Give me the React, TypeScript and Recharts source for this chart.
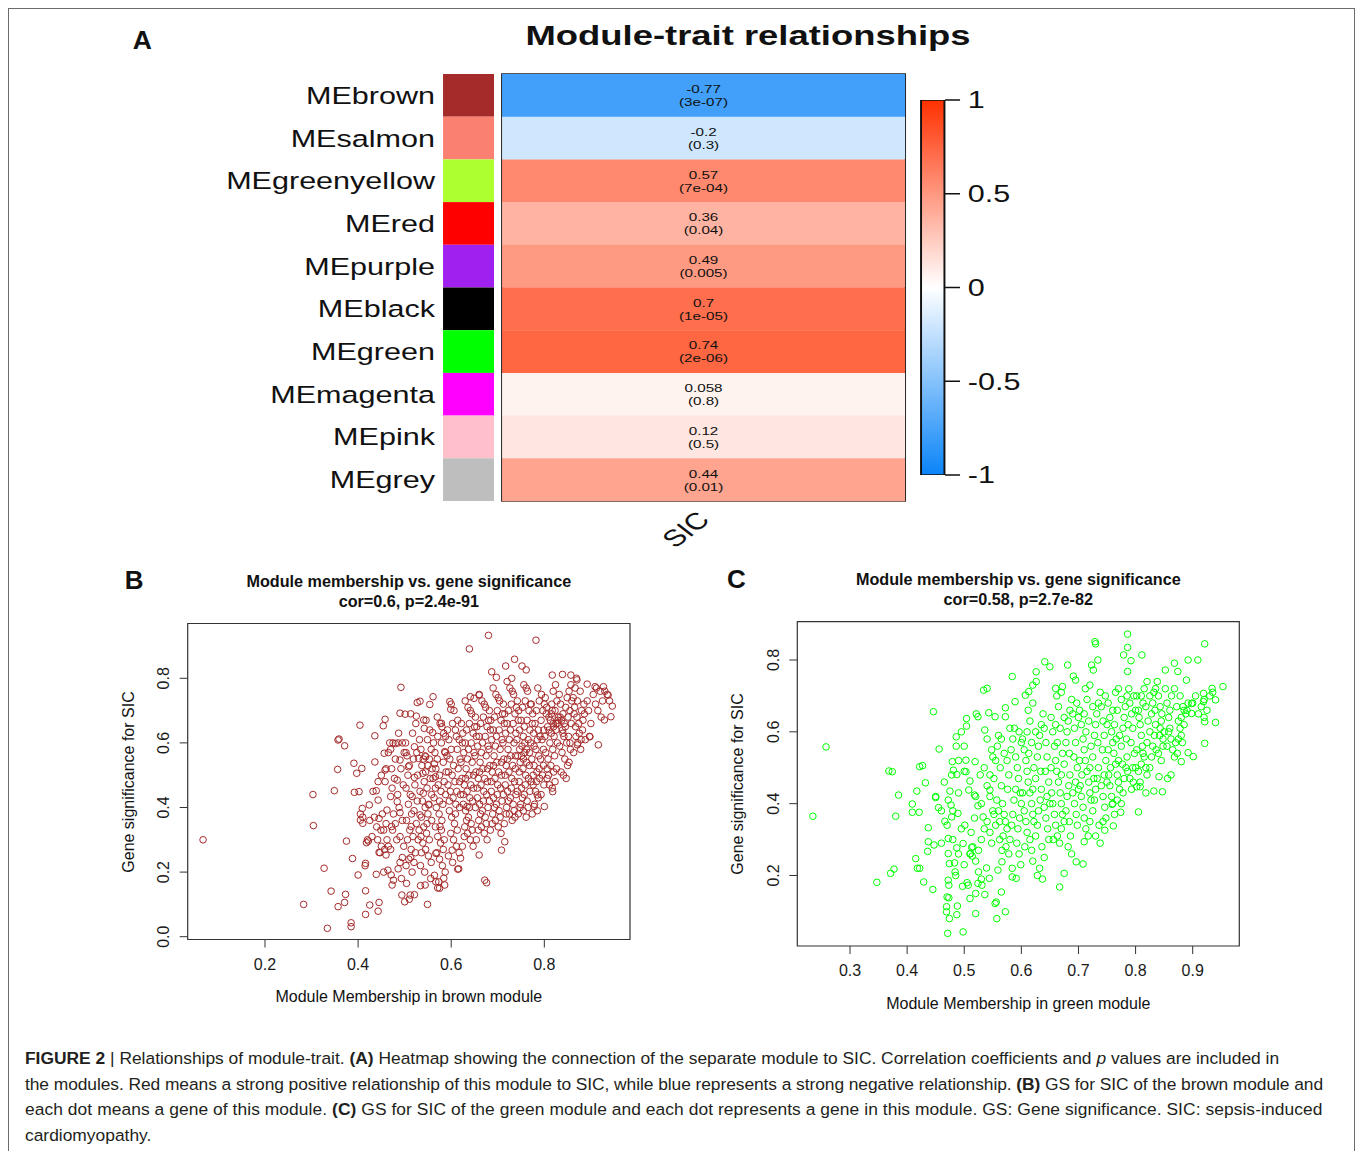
import React from 'react';
import {
  BarChart,
  Bar,
  Cell,
  LabelList,
  XAxis,
  YAxis,
  ScatterChart,
  Scatter,
  ReferenceArea,
} from 'recharts';

const FONT = '"Liberation Sans", Arial, Helvetica, sans-serif';
const INK = '#111';

// ---- panel A: module-trait heatmap ----
const modules = ['MEbrown', 'MEsalmon', 'MEgreenyellow', 'MEred', 'MEpurple', 'MEblack', 'MEgreen', 'MEmagenta', 'MEpink', 'MEgrey'];
const moduleColors = ['#A52A2A', '#FA8072', '#ADFF2F', '#FF0000', '#A020F0', '#000000', '#00FF00', '#FF00FF', '#FFC0CB', '#BEBEBE'];
const corSIC = [-0.77, -0.2, 0.57, 0.36, 0.49, 0.7, 0.74, 0.058, 0.12, 0.44];
const pSIC = ['3e-07', '0.3', '7e-04', '0.04', '0.005', '1e-05', '2e-06', '0.8', '0.5', '0.01'];
const scaleTicks = [-1, -0.5, 0, 0.5, 1];

// ---- panel B / C: module membership vs gene significance ----
const brownTicksX = [0.2, 0.4, 0.6, 0.8];
const brownTicksY = [0, 0.2, 0.4, 0.6, 0.8];
const greenTicksX = [0.3, 0.4, 0.5, 0.6, 0.7, 0.8, 0.9];
const greenTicksY = [0.2, 0.4, 0.6, 0.8];

const brownPoints: [number, number][] = [
  [0.067, 0.30], [0.283, 0.10], [0.303, 0.44], [0.304, 0.344], [0.327, 0.212], [0.334, 0.026], [0.342, 0.141], [0.349, 0.452],
  [0.357, 0.609], [0.359, 0.612], [0.356, 0.518], [0.357, 0.093], [0.371, 0.591], [0.373, 0.131], [0.371, 0.106], [0.375, 0.296],
  [0.385, 0.043], [0.385, 0.031], [0.388, 0.242], [0.391, 0.537], [0.392, 0.447], [0.397, 0.506], [0.40, 0.191], [0.404, 0.655],
  [0.402, 0.449], [0.405, 0.361], [0.409, 0.397], [0.408, 0.521], [0.41, 0.351], [0.416, 0.227], [0.416, 0.142], [0.416, 0.069],
  [0.418, 0.291], [0.424, 0.408], [0.425, 0.098], [0.422, 0.296], [0.436, 0.622], [0.436, 0.541], [0.439, 0.452], [0.439, 0.193],
  [0.443, 0.079], [0.445, 0.106], [0.445, 0.261], [0.445, 0.366], [0.443, 0.423], [0.449, 0.33], [0.454, 0.653], [0.458, 0.673],
  [0.456, 0.568], [0.458, 0.516], [0.458, 0.48], [0.462, 0.392], [0.46, 0.253], [0.464, 0.206], [0.468, 0.6], [0.471, 0.191],
  [0.473, 0.16], [0.476, 0.175], [0.47, 0.434], [0.472, 0.341], [0.48, 0.598], [0.484, 0.485], [0.484, 0.418], [0.49, 0.384],
  [0.492, 0.772], [0.49, 0.692], [0.486, 0.6], [0.49, 0.547], [0.495, 0.245], [0.494, 0.129], [0.5, 0.108], [0.501, 0.689],
  [0.503, 0.57], [0.504, 0.165], [0.508, 0.526], [0.512, 0.129], [0.51, 0.116], [0.513, 0.245], [0.514, 0.341], [0.516, 0.434],
  [0.521, 0.493], [0.521, 0.588], [0.525, 0.683], [0.527, 0.725], [0.533, 0.729], [0.53, 0.552], [0.533, 0.377], [0.535, 0.31],
  [0.534, 0.158], [0.541, 0.671], [0.542, 0.645], [0.539, 0.506], [0.54, 0.444], [0.545, 0.557], [0.544, 0.16], [0.549, 0.1],
  [0.552, 0.408], [0.554, 0.719], [0.561, 0.743], [0.56, 0.632], [0.564, 0.535], [0.566, 0.495], [0.567, 0.17], [0.571, 0.151],
  [0.567, 0.258], [0.575, 0.15], [0.576, 0.341], [0.579, 0.661], [0.584, 0.181], [0.586, 0.573], [0.597, 0.728], [0.599, 0.704],
  [0.602, 0.268], [0.614, 0.209], [0.62, 0.243], [0.634, 0.403], [0.639, 0.891], [0.641, 0.743], [0.649, 0.738], [0.66, 0.748],
  [0.66, 0.253], [0.672, 0.175], [0.676, 0.167], [0.68, 0.933], [0.687, 0.82], [0.697, 0.803], [0.708, 0.268], [0.715, 0.294],
  [0.717, 0.838], [0.736, 0.859], [0.752, 0.838], [0.761, 0.826], [0.782, 0.918], [0.778, 0.403], [0.785, 0.439], [0.8, 0.403],
  [0.817, 0.81], [0.818, 0.449], [0.839, 0.812], [0.857, 0.81], [0.87, 0.795], [0.871, 0.594], [0.892, 0.782], [0.898, 0.619],
  [0.909, 0.774], [0.916, 0.594], [0.927, 0.774], [0.929, 0.671], [0.937, 0.748], [0.946, 0.714], [0.943, 0.681],
  [0.405, 0.38], [0.41, 0.37], [0.415, 0.22], [0.42, 0.30], [0.425, 0.36], [0.43, 0.31], [0.432, 0.45], [0.435, 0.37], [0.44, 0.34],
  [0.442, 0.30], [0.447, 0.26], [0.45, 0.28], [0.452, 0.38], [0.455, 0.33], [0.457, 0.27], [0.46, 0.35], [0.462, 0.30], [0.465, 0.28],
  [0.455, 0.20], [0.45, 0.50], [0.46, 0.52], [0.465, 0.57], [0.443, 0.48],
  [0.47, 0.58], [0.475, 0.60], [0.48, 0.55], [0.472, 0.52], [0.478, 0.49], [0.473, 0.46], [0.485, 0.44], [0.476, 0.38], [0.48, 0.35],
  [0.474, 0.33], [0.483, 0.30], [0.47, 0.27], [0.49, 0.31], [0.495, 0.36], [0.488, 0.40], [0.497, 0.47], [0.492, 0.52], [0.499, 0.57],
  [0.495, 0.60], [0.487, 0.63], [0.49, 0.23], [0.498, 0.28], [0.486, 0.21], [0.493, 0.18],
  [0.502, 0.60], [0.505, 0.56], [0.51, 0.53], [0.507, 0.50], [0.503, 0.46], [0.512, 0.44], [0.508, 0.41], [0.515, 0.38], [0.504, 0.36],
  [0.511, 0.33], [0.506, 0.30], [0.514, 0.27], [0.509, 0.24], [0.503, 0.22], [0.516, 0.20], [0.52, 0.23], [0.523, 0.26], [0.518, 0.31],
  [0.525, 0.35], [0.52, 0.39], [0.527, 0.42], [0.522, 0.47], [0.528, 0.50], [0.519, 0.55], [0.526, 0.57], [0.517, 0.63], [0.524, 0.66],
  [0.513, 0.69], [0.529, 0.30], [0.521, 0.13],
  [0.532, 0.61], [0.535, 0.58], [0.54, 0.55], [0.537, 0.53], [0.545, 0.51], [0.542, 0.48], [0.548, 0.46], [0.533, 0.45], [0.538, 0.42],
  [0.544, 0.40], [0.55, 0.38], [0.536, 0.37], [0.541, 0.34], [0.547, 0.32], [0.553, 0.30], [0.539, 0.29], [0.545, 0.27], [0.551, 0.25],
  [0.557, 0.23], [0.534, 0.22], [0.543, 0.20], [0.556, 0.18], [0.552, 0.41], [0.558, 0.44], [0.555, 0.49], [0.559, 0.52], [0.553, 0.55],
  [0.557, 0.58], [0.549, 0.61], [0.554, 0.64], [0.546, 0.67], [0.536, 0.26], [0.548, 0.35], [0.531, 0.33], [0.558, 0.36], [0.544, 0.56],
  [0.55, 0.53],
  [0.562, 0.60], [0.565, 0.57], [0.57, 0.55], [0.567, 0.52], [0.575, 0.50], [0.572, 0.47], [0.578, 0.45], [0.563, 0.43], [0.568, 0.40],
  [0.574, 0.38], [0.58, 0.36], [0.566, 0.34], [0.571, 0.31], [0.577, 0.29], [0.583, 0.27], [0.569, 0.26], [0.575, 0.24], [0.581, 0.22],
  [0.587, 0.20], [0.564, 0.19], [0.573, 0.17], [0.586, 0.16], [0.582, 0.41], [0.588, 0.44], [0.585, 0.48], [0.589, 0.51], [0.583, 0.54],
  [0.587, 0.57], [0.579, 0.60], [0.584, 0.63], [0.576, 0.66], [0.57, 0.68], [0.58, 0.65], [0.588, 0.62], [0.561, 0.49], [0.566, 0.46],
  [0.579, 0.33], [0.585, 0.30], [0.575, 0.42], [0.571, 0.62],
  [0.592, 0.64], [0.595, 0.61], [0.60, 0.58], [0.597, 0.55], [0.605, 0.53], [0.602, 0.50], [0.608, 0.48], [0.593, 0.47], [0.598, 0.45],
  [0.604, 0.43], [0.61, 0.41], [0.596, 0.39], [0.601, 0.37], [0.607, 0.35], [0.613, 0.33], [0.599, 0.32], [0.605, 0.30], [0.611, 0.28],
  [0.617, 0.26], [0.594, 0.25], [0.603, 0.23], [0.616, 0.21], [0.612, 0.45], [0.618, 0.48], [0.615, 0.52], [0.619, 0.55], [0.613, 0.58],
  [0.617, 0.61], [0.609, 0.64], [0.614, 0.67], [0.606, 0.70], [0.60, 0.72], [0.591, 0.56], [0.596, 0.42], [0.609, 0.38], [0.618, 0.40],
  [0.62, 0.44], [0.594, 0.51], [0.611, 0.62], [0.603, 0.66],
  [0.622, 0.66], [0.625, 0.63], [0.63, 0.60], [0.627, 0.57], [0.635, 0.55], [0.632, 0.52], [0.638, 0.50], [0.623, 0.49], [0.628, 0.47],
  [0.634, 0.45], [0.64, 0.43], [0.626, 0.41], [0.631, 0.39], [0.637, 0.37], [0.643, 0.35], [0.629, 0.34], [0.635, 0.32], [0.641, 0.30],
  [0.647, 0.28], [0.624, 0.28], [0.633, 0.36], [0.646, 0.42], [0.642, 0.47], [0.648, 0.50], [0.645, 0.54], [0.649, 0.57], [0.643, 0.60],
  [0.647, 0.63], [0.639, 0.66], [0.644, 0.69], [0.636, 0.71], [0.63, 0.73], [0.621, 0.54], [0.626, 0.44], [0.639, 0.40], [0.648, 0.46],
  [0.65, 0.65], [0.624, 0.60], [0.641, 0.70], [0.633, 0.64], [0.628, 0.31], [0.645, 0.33], [0.637, 0.58], [0.631, 0.49],
  [0.652, 0.68], [0.655, 0.65], [0.66, 0.62], [0.657, 0.59], [0.665, 0.57], [0.662, 0.54], [0.668, 0.52], [0.653, 0.51], [0.658, 0.49],
  [0.664, 0.47], [0.67, 0.45], [0.656, 0.43], [0.661, 0.41], [0.667, 0.39], [0.673, 0.37], [0.659, 0.36], [0.665, 0.34], [0.671, 0.32],
  [0.677, 0.30], [0.654, 0.30], [0.663, 0.38], [0.676, 0.44], [0.672, 0.49], [0.678, 0.52], [0.675, 0.56], [0.679, 0.59], [0.673, 0.62],
  [0.677, 0.65], [0.669, 0.68], [0.674, 0.71], [0.666, 0.73], [0.66, 0.75], [0.651, 0.56], [0.656, 0.46], [0.669, 0.42], [0.678, 0.48],
  [0.68, 0.67], [0.654, 0.62], [0.671, 0.72], [0.663, 0.66], [0.658, 0.33], [0.675, 0.35], [0.667, 0.60], [0.661, 0.51], [0.652, 0.40],
  [0.679, 0.40],
  [0.682, 0.70], [0.685, 0.67], [0.69, 0.64], [0.687, 0.61], [0.695, 0.59], [0.692, 0.56], [0.698, 0.54], [0.683, 0.53], [0.688, 0.51],
  [0.694, 0.49], [0.70, 0.47], [0.686, 0.45], [0.691, 0.43], [0.697, 0.41], [0.703, 0.39], [0.689, 0.38], [0.695, 0.36], [0.701, 0.34],
  [0.707, 0.32], [0.684, 0.33], [0.693, 0.40], [0.706, 0.46], [0.702, 0.51], [0.708, 0.54], [0.705, 0.58], [0.709, 0.61], [0.703, 0.64],
  [0.707, 0.67], [0.699, 0.70], [0.704, 0.73], [0.696, 0.75], [0.69, 0.77], [0.681, 0.58], [0.686, 0.48], [0.699, 0.44], [0.708, 0.50],
  [0.71, 0.69], [0.684, 0.64], [0.701, 0.74], [0.693, 0.68], [0.688, 0.35], [0.705, 0.37], [0.697, 0.62], [0.691, 0.53], [0.682, 0.42],
  [0.709, 0.42],
  [0.712, 0.72], [0.715, 0.69], [0.72, 0.66], [0.717, 0.63], [0.725, 0.61], [0.722, 0.58], [0.728, 0.56], [0.713, 0.55], [0.718, 0.53],
  [0.724, 0.51], [0.73, 0.49], [0.716, 0.47], [0.721, 0.45], [0.727, 0.43], [0.733, 0.41], [0.719, 0.40], [0.725, 0.38], [0.731, 0.36],
  [0.737, 0.37], [0.714, 0.35], [0.723, 0.42], [0.736, 0.48], [0.732, 0.53], [0.738, 0.56], [0.735, 0.60], [0.739, 0.63], [0.733, 0.66],
  [0.737, 0.69], [0.729, 0.72], [0.734, 0.75], [0.726, 0.77], [0.72, 0.79], [0.711, 0.60], [0.716, 0.50], [0.729, 0.46], [0.738, 0.52],
  [0.74, 0.71], [0.714, 0.66], [0.731, 0.76], [0.723, 0.70], [0.718, 0.38], [0.735, 0.39], [0.727, 0.64], [0.721, 0.55], [0.712, 0.44],
  [0.739, 0.44], [0.73, 0.80],
  [0.742, 0.73], [0.745, 0.70], [0.75, 0.67], [0.747, 0.64], [0.755, 0.62], [0.752, 0.59], [0.758, 0.57], [0.743, 0.56], [0.748, 0.54],
  [0.754, 0.52], [0.76, 0.50], [0.746, 0.48], [0.751, 0.46], [0.757, 0.44], [0.763, 0.42], [0.749, 0.41], [0.755, 0.39], [0.761, 0.37],
  [0.744, 0.38], [0.753, 0.43], [0.766, 0.49], [0.762, 0.54], [0.768, 0.57], [0.765, 0.61], [0.769, 0.64], [0.763, 0.67], [0.767, 0.70],
  [0.759, 0.73], [0.764, 0.76], [0.756, 0.78], [0.741, 0.61], [0.746, 0.51], [0.759, 0.47], [0.768, 0.53], [0.77, 0.72], [0.744, 0.67],
  [0.761, 0.77], [0.753, 0.71], [0.748, 0.40], [0.765, 0.40], [0.757, 0.65], [0.751, 0.56], [0.742, 0.45], [0.769, 0.45], [0.758, 0.60],
  [0.762, 0.58], [0.747, 0.58], [0.755, 0.55],
  [0.772, 0.72], [0.775, 0.69], [0.78, 0.66], [0.777, 0.63], [0.785, 0.61], [0.782, 0.58], [0.788, 0.56], [0.773, 0.55], [0.778, 0.53],
  [0.784, 0.51], [0.79, 0.49], [0.776, 0.47], [0.781, 0.45], [0.787, 0.43], [0.793, 0.44], [0.779, 0.41], [0.785, 0.39], [0.774, 0.38],
  [0.783, 0.48], [0.796, 0.50], [0.792, 0.55], [0.798, 0.58], [0.795, 0.61], [0.799, 0.64], [0.793, 0.67], [0.797, 0.70], [0.789, 0.73],
  [0.794, 0.75], [0.786, 0.77], [0.771, 0.60], [0.776, 0.50], [0.789, 0.52], [0.798, 0.53], [0.80, 0.72], [0.774, 0.66], [0.791, 0.62],
  [0.783, 0.70], [0.778, 0.59], [0.787, 0.64], [0.772, 0.48], [0.799, 0.47],
  [0.802, 0.74], [0.805, 0.71], [0.81, 0.68], [0.807, 0.65], [0.815, 0.63], [0.812, 0.60], [0.818, 0.58], [0.803, 0.57], [0.808, 0.55],
  [0.814, 0.53], [0.82, 0.51], [0.806, 0.49], [0.811, 0.47], [0.817, 0.46], [0.823, 0.48], [0.809, 0.50], [0.826, 0.52], [0.822, 0.56],
  [0.828, 0.60], [0.825, 0.64], [0.829, 0.67], [0.823, 0.70], [0.827, 0.73], [0.819, 0.76], [0.824, 0.78], [0.816, 0.72], [0.801, 0.62],
  [0.806, 0.52], [0.819, 0.66], [0.828, 0.66], [0.83, 0.68], [0.804, 0.69], [0.821, 0.62], [0.813, 0.67], [0.817, 0.70], [0.825, 0.66],
  [0.82, 0.65], [0.815, 0.69], [0.81, 0.64],
  [0.832, 0.75], [0.835, 0.72], [0.84, 0.69], [0.837, 0.67], [0.845, 0.65], [0.842, 0.62], [0.848, 0.60], [0.833, 0.59], [0.838, 0.57],
  [0.844, 0.55], [0.85, 0.53], [0.836, 0.51], [0.841, 0.50], [0.847, 0.49], [0.853, 0.54], [0.839, 0.64], [0.856, 0.58], [0.852, 0.62],
  [0.858, 0.66], [0.855, 0.70], [0.859, 0.73], [0.853, 0.76], [0.857, 0.78], [0.849, 0.74], [0.846, 0.71], [0.834, 0.68], [0.843, 0.66],
  [0.851, 0.68], [0.84, 0.63], [0.855, 0.60],
  [0.862, 0.74], [0.865, 0.71], [0.87, 0.68], [0.867, 0.65], [0.875, 0.63], [0.872, 0.60], [0.878, 0.58], [0.863, 0.57], [0.868, 0.62],
  [0.874, 0.66], [0.88, 0.70], [0.866, 0.77], [0.871, 0.73], [0.877, 0.76], [0.883, 0.67], [0.869, 0.80], [0.885, 0.72], [0.882, 0.64],
  [0.888, 0.61], [0.886, 0.69], [0.864, 0.69], [0.879, 0.61],
  [0.892, 0.73], [0.895, 0.70], [0.90, 0.66], [0.897, 0.62], [0.905, 0.75], [0.91, 0.72], [0.915, 0.70], [0.92, 0.76], [0.925, 0.73],
  [0.93, 0.76], [0.935, 0.75], [0.94, 0.73], [0.922, 0.68], [0.912, 0.77],
];

const greenPoints: [number, number][] = [
  [0.235, 0.365], [0.258, 0.558], [0.347, 0.181], [0.368, 0.491], [0.374, 0.489], [0.371, 0.206], [0.377, 0.218], [0.38, 0.365],
  [0.385, 0.424], [0.409, 0.399], [0.409, 0.376], [0.415, 0.247], [0.417, 0.435], [0.418, 0.22], [0.422, 0.22], [0.422, 0.503],
  [0.427, 0.506], [0.421, 0.376], [0.429, 0.182], [0.432, 0.458], [0.436, 0.267], [0.437, 0.294], [0.437, 0.333], [0.445, 0.161],
  [0.447, 0.285], [0.446, 0.656], [0.45, 0.417], [0.455, 0.389], [0.456, 0.552], [0.466, 0.351], [0.469, 0.113], [0.469, 0.099],
  [0.471, 0.039], [0.472, 0.303], [0.472, 0.261], [0.472, 0.41], [0.472, 0.187], [0.473, 0.173], [0.473, 0.138], [0.474, 0.08],
  [0.474, 0.233], [0.475, 0.435], [0.477, 0.396], [0.478, 0.363], [0.479, 0.517], [0.481, 0.493], [0.483, 0.235], [0.484, 0.21],
  [0.486, 0.586], [0.486, 0.56], [0.487, 0.481], [0.487, 0.277], [0.487, 0.091], [0.488, 0.115], [0.489, 0.373], [0.498, 0.043],
  [0.498, 0.289], [0.501, 0.34], [0.503, 0.521], [0.503, 0.489], [0.504, 0.616], [0.504, 0.637], [0.505, 0.18], [0.507, 0.173],
  [0.51, 0.136], [0.508, 0.438], [0.51, 0.463], [0.511, 0.261], [0.513, 0.278], [0.514, 0.254], [0.518, 0.424], [0.519, 0.517],
  [0.52, 0.15], [0.52, 0.094], [0.521, 0.65], [0.524, 0.642], [0.524, 0.394], [0.524, 0.178], [0.528, 0.48], [0.531, 0.173],
  [0.533, 0.363], [0.536, 0.147], [0.534, 0.716], [0.54, 0.721], [0.536, 0.605], [0.539, 0.221], [0.543, 0.653], [0.544, 0.192],
  [0.545, 0.438], [0.554, 0.122], [0.556, 0.126], [0.557, 0.08], [0.559, 0.215], [0.554, 0.642], [0.565, 0.154], [0.572, 0.099],
  [0.572, 0.642], [0.572, 0.667], [0.566, 0.238], [0.584, 0.754], [0.589, 0.684], [0.584, 0.196], [0.591, 0.192], [0.607, 0.702],
  [0.613, 0.712], [0.62, 0.73], [0.626, 0.767], [0.626, 0.74], [0.641, 0.795], [0.65, 0.781], [0.66, 0.721], [0.672, 0.726],
  [0.667, 0.168], [0.675, 0.206], [0.681, 0.786], [0.691, 0.755], [0.695, 0.744], [0.696, 0.238], [0.708, 0.232], [0.71, 0.294],
  [0.723, 0.786], [0.726, 0.772], [0.729, 0.851], [0.73, 0.845], [0.734, 0.8], [0.743, 0.35], [0.746, 0.326], [0.761, 0.338],
  [0.759, 0.398], [0.768, 0.41], [0.774, 0.376], [0.779, 0.814], [0.786, 0.872], [0.786, 0.835], [0.786, 0.768], [0.792, 0.798],
  [0.805, 0.377], [0.811, 0.814], [0.802, 0.447], [0.808, 0.447], [0.818, 0.43], [0.832, 0.435], [0.841, 0.475], [0.847, 0.433],
  [0.852, 0.772], [0.856, 0.47], [0.862, 0.48], [0.868, 0.791], [0.874, 0.768], [0.88, 0.517], [0.889, 0.744], [0.892, 0.542],
  [0.901, 0.531], [0.892, 0.80], [0.909, 0.80], [0.919, 0.684], [0.919, 0.707], [0.921, 0.845], [0.921, 0.568], [0.921, 0.628],
  [0.934, 0.721], [0.94, 0.689], [0.94, 0.626], [0.953, 0.726], [0.898, 0.679], [0.898, 0.651],
  [0.45, 0.42], [0.46, 0.38], [0.47, 0.34], [0.48, 0.30], [0.46, 0.29], [0.49, 0.26], [0.48, 0.38], [0.49, 0.43], [0.495, 0.33],
  [0.5, 0.49], [0.49, 0.52], [0.5, 0.56], [0.495, 0.60], [0.478, 0.48], [0.465, 0.46], [0.485, 0.20], [0.47, 0.14], [0.5, 0.23],
  [0.497, 0.17],
  [0.51, 0.26], [0.515, 0.28], [0.52, 0.24], [0.525, 0.27], [0.53, 0.30], [0.535, 0.33], [0.54, 0.35], [0.545, 0.32], [0.52, 0.42],
  [0.53, 0.40], [0.54, 0.45], [0.545, 0.48], [0.535, 0.50], [0.548, 0.55], [0.54, 0.58], [0.55, 0.53], [0.525, 0.21], [0.53, 0.19],
  [0.545, 0.42], [0.55, 0.38], [0.548, 0.29], [0.512, 0.32], [0.518, 0.36],
  [0.552, 0.47], [0.555, 0.52], [0.558, 0.56], [0.56, 0.59], [0.563, 0.50], [0.565, 0.45], [0.567, 0.40], [0.57, 0.37], [0.572, 0.35],
  [0.575, 0.33], [0.56, 0.38], [0.562, 0.35], [0.568, 0.31], [0.573, 0.28], [0.578, 0.26], [0.58, 0.30], [0.583, 0.34], [0.585, 0.37],
  [0.587, 0.41], [0.59, 0.44], [0.578, 0.48], [0.575, 0.52], [0.582, 0.55], [0.585, 0.58], [0.59, 0.53], [0.593, 0.50], [0.595, 0.47],
  [0.598, 0.43], [0.60, 0.40], [0.597, 0.36], [0.594, 0.33], [0.592, 0.29], [0.596, 0.26], [0.599, 0.23], [0.57, 0.54], [0.565, 0.58],
  [0.588, 0.61], [0.58, 0.61], [0.557, 0.41], [0.562, 0.30], [0.566, 0.27], [0.555, 0.34], [0.576, 0.44], [0.60, 0.57], [0.596, 0.60],
  [0.552, 0.37], [0.584, 0.22],
  [0.602, 0.58], [0.605, 0.55], [0.608, 0.52], [0.61, 0.49], [0.612, 0.46], [0.615, 0.43], [0.618, 0.40], [0.62, 0.37], [0.622, 0.35],
  [0.605, 0.38], [0.608, 0.35], [0.61, 0.32], [0.615, 0.30], [0.618, 0.27], [0.62, 0.24], [0.625, 0.31], [0.628, 0.34], [0.63, 0.38],
  [0.633, 0.41], [0.635, 0.44], [0.625, 0.47], [0.622, 0.50], [0.628, 0.53], [0.63, 0.56], [0.632, 0.59], [0.635, 0.62], [0.625, 0.60],
  [0.618, 0.57], [0.615, 0.63], [0.612, 0.66], [0.62, 0.68], [0.638, 0.65], [0.64, 0.61], [0.643, 0.57], [0.645, 0.53], [0.642, 0.49],
  [0.648, 0.46], [0.645, 0.42], [0.64, 0.39], [0.643, 0.36], [0.646, 0.33], [0.648, 0.30], [0.636, 0.28], [0.632, 0.22], [0.64, 0.25],
  [0.637, 0.19], [0.628, 0.20], [0.602, 0.43], [0.606, 0.28], [0.613, 0.54], [0.634, 0.49], [0.65, 0.40], [0.62, 0.44], [0.61, 0.60],
  [0.652, 0.64], [0.655, 0.60], [0.658, 0.56], [0.66, 0.52], [0.662, 0.49], [0.665, 0.46], [0.668, 0.43], [0.67, 0.40], [0.672, 0.37],
  [0.655, 0.40], [0.658, 0.37], [0.66, 0.34], [0.663, 0.31], [0.667, 0.29], [0.67, 0.33], [0.675, 0.35], [0.678, 0.38], [0.68, 0.42],
  [0.683, 0.45], [0.685, 0.48], [0.675, 0.51], [0.672, 0.54], [0.678, 0.57], [0.68, 0.60], [0.682, 0.63], [0.685, 0.66], [0.675, 0.64],
  [0.668, 0.61], [0.665, 0.67], [0.662, 0.70], [0.67, 0.71], [0.688, 0.69], [0.69, 0.65], [0.693, 0.61], [0.695, 0.57], [0.692, 0.53],
  [0.698, 0.50], [0.695, 0.46], [0.69, 0.43], [0.693, 0.40], [0.696, 0.37], [0.698, 0.34], [0.686, 0.31], [0.682, 0.28], [0.688, 0.26],
  [0.684, 0.35], [0.652, 0.50], [0.656, 0.30], [0.663, 0.57], [0.684, 0.54], [0.70, 0.44], [0.67, 0.48], [0.66, 0.62], [0.70, 0.64],
  [0.697, 0.68], [0.653, 0.43],
  [0.702, 0.66], [0.705, 0.62], [0.708, 0.58], [0.71, 0.55], [0.712, 0.52], [0.715, 0.49], [0.718, 0.46], [0.72, 0.43], [0.722, 0.41],
  [0.705, 0.42], [0.708, 0.39], [0.71, 0.36], [0.713, 0.33], [0.717, 0.31], [0.72, 0.35], [0.725, 0.38], [0.728, 0.41], [0.73, 0.44],
  [0.733, 0.47], [0.735, 0.50], [0.725, 0.53], [0.722, 0.56], [0.728, 0.59], [0.73, 0.62], [0.732, 0.65], [0.735, 0.68], [0.725, 0.67],
  [0.718, 0.63], [0.715, 0.69], [0.712, 0.72], [0.72, 0.73], [0.738, 0.71], [0.74, 0.67], [0.743, 0.63], [0.745, 0.59], [0.742, 0.55],
  [0.748, 0.52], [0.745, 0.48], [0.74, 0.45], [0.743, 0.42], [0.746, 0.39], [0.748, 0.36], [0.736, 0.34], [0.73, 0.31], [0.738, 0.29],
  [0.702, 0.52], [0.706, 0.48], [0.713, 0.60], [0.734, 0.57], [0.75, 0.46], [0.72, 0.50], [0.71, 0.65], [0.75, 0.62], [0.747, 0.70],
  [0.703, 0.45], [0.727, 0.47],
  [0.752, 0.68], [0.755, 0.64], [0.758, 0.60], [0.76, 0.57], [0.762, 0.54], [0.765, 0.51], [0.768, 0.48], [0.77, 0.46], [0.772, 0.44],
  [0.755, 0.45], [0.758, 0.42], [0.76, 0.40], [0.763, 0.37], [0.775, 0.40], [0.778, 0.43], [0.78, 0.47], [0.783, 0.50], [0.785, 0.53],
  [0.775, 0.56], [0.772, 0.59], [0.778, 0.61], [0.78, 0.64], [0.782, 0.67], [0.785, 0.70], [0.775, 0.69], [0.768, 0.66], [0.765, 0.71],
  [0.77, 0.72], [0.788, 0.72], [0.79, 0.68], [0.793, 0.65], [0.795, 0.61], [0.792, 0.57], [0.798, 0.54], [0.795, 0.50], [0.79, 0.47],
  [0.793, 0.44], [0.796, 0.46], [0.786, 0.49], [0.752, 0.55], [0.756, 0.50], [0.763, 0.62], [0.784, 0.58], [0.80, 0.50], [0.77, 0.52],
  [0.76, 0.66], [0.80, 0.66], [0.797, 0.70], [0.753, 0.48], [0.777, 0.51], [0.766, 0.58], [0.787, 0.62],
  [0.802, 0.70], [0.805, 0.66], [0.808, 0.62], [0.81, 0.59], [0.812, 0.56], [0.815, 0.53], [0.818, 0.50], [0.82, 0.48], [0.805, 0.49],
  [0.808, 0.46], [0.81, 0.51], [0.813, 0.54], [0.825, 0.50], [0.828, 0.53], [0.83, 0.56], [0.833, 0.59], [0.835, 0.62], [0.825, 0.60],
  [0.822, 0.63], [0.828, 0.65], [0.83, 0.68], [0.832, 0.71], [0.835, 0.72], [0.825, 0.70], [0.818, 0.67], [0.815, 0.72], [0.82, 0.74],
  [0.838, 0.74], [0.84, 0.70], [0.843, 0.67], [0.845, 0.63], [0.842, 0.59], [0.848, 0.56], [0.845, 0.52], [0.84, 0.54], [0.843, 0.61],
  [0.846, 0.65], [0.848, 0.58], [0.836, 0.55], [0.802, 0.55], [0.806, 0.64], [0.813, 0.68], [0.834, 0.66], [0.85, 0.60], [0.82, 0.57],
  [0.81, 0.70],
  [0.852, 0.72], [0.855, 0.68], [0.858, 0.64], [0.86, 0.61], [0.862, 0.58], [0.865, 0.55], [0.868, 0.53], [0.87, 0.57], [0.855, 0.56],
  [0.858, 0.60], [0.86, 0.66], [0.863, 0.70], [0.875, 0.58], [0.878, 0.61], [0.88, 0.64], [0.883, 0.67], [0.885, 0.66], [0.875, 0.63],
  [0.872, 0.67], [0.878, 0.70], [0.88, 0.59], [0.882, 0.57], [0.885, 0.62], [0.888, 0.65], [0.89, 0.66], [0.868, 0.72], [0.873, 0.54],
  [0.892, 0.68],
  [0.905, 0.70], [0.91, 0.65], [0.915, 0.67], [0.92, 0.69], [0.925, 0.66], [0.93, 0.70], [0.92, 0.64], [0.935, 0.71], [0.90, 0.68],
];

// ---- layout (page pixels) ----
const PAGE_W = 1355;
const PAGE_H = 1151;
const STRETCH = 1.3; // panel A of the figure is horizontally stretched
const A_W = 1042;
const A_H = 560;
const HEAT = { left: 386.2, right: 696.2, top: 74, bottom: 501 };
const ROW_H = (HEAT.bottom - HEAT.top) / modules.length;
const LEFT_AXIS_W = 100;
const CBAR = { left: 708.5, right: 726.9, top: 100, bottom: 475 };

const HIGH = [255, 48, 0];
const LOW = [10, 132, 248];
const corColor = (v: number) => {
  const end = v >= 0 ? HIGH : LOW;
  const t = Math.min(1, Math.abs(v));
  const c = end.map((e) => Math.round(255 + (e - 255) * t));
  return `rgb(${c[0]},${c[1]},${c[2]})`;
};

const heatRows = modules.map((name, i) => ({ name, cor: corSIC[i], span: 1 }));
const scaleRows = [{ name: 'scale', range: [-1, 1] }];

const Txt = ({ x, y, size, bold, rotate, color, children }: any) => (
  <div
    style={{
      position: 'absolute',
      left: x,
      top: y,
      transform: `translate(-50%, -50%)${rotate ? ` rotate(${rotate}deg)` : ''}`,
      fontSize: size,
      fontWeight: bold ? 700 : 400,
      lineHeight: 1,
      whiteSpace: 'nowrap',
      fontFamily: FONT,
      color: color ?? INK,
    }}
  >
    {children}
  </div>
);

const ModuleTick = (props: any) => {
  const { x, y, payload } = props;
  const i = modules.indexOf(payload.value);
  return (
    <g>
      <rect x={x - 45.4} y={y - ROW_H / 2} width={39.2} height={ROW_H} fill={moduleColors[i]} />
      <text x={x - 51.6} y={y} dy="0.36em" textAnchor="end" fontSize={23.5} fontFamily={FONT} fill={INK}>
        {payload.value}
      </text>
    </g>
  );
};

const CellText = (props: any) => {
  const { x, y, width, height, value } = props;
  const i = props.index ?? corSIC.indexOf(value);
  const cx = x + width / 2;
  const cy = y + height / 2;
  return (
    <text textAnchor="middle" fontSize={11.7} fontFamily={FONT} fill={INK}>
      <tspan x={cx} y={cy - 6.5} dy="0.36em">{String(corSIC[i])}</tspan>
      <tspan x={cx} y={cy + 6.5} dy="0.36em">({pSIC[i]})</tspan>
    </text>
  );
};

const RotTick = (props: any) => {
  const { x, y, payload } = props;
  return (
    <text transform={`translate(${x},${y}) rotate(-90)`} textAnchor="middle" dy="0.36em" fontSize={16} fontFamily={FONT} fill="#1a1a1a">
      {Number(payload.value).toFixed(1)}
    </text>
  );
};

const ring = (color: string) => (props: any) =>
  <circle cx={props.cx} cy={props.cy} r={3.3} fill="none" stroke={color} strokeWidth={1} />;

const HeatmapPanel = () => {
  const stops = Array.from({ length: 21 }, (_, k) => k / 20);
  return (
    <div style={{ position: 'absolute', left: 0, top: 0, width: A_W, height: A_H, transform: `scaleX(${STRETCH})`, transformOrigin: '0 0' }}>
      <div style={{ position: 'absolute', left: 0, top: 0 }}>
        <BarChart
          layout="vertical"
          width={A_W}
          height={A_H}
          data={heatRows}
          barCategoryGap={0}
          margin={{ top: HEAT.top, bottom: A_H - HEAT.bottom, left: HEAT.left - LEFT_AXIS_W, right: A_W - HEAT.right }}
        >
          <XAxis type="number" domain={[0, 1]} height={0} tick={false} tickLine={false} axisLine={false} />
          <YAxis type="category" dataKey="name" width={LEFT_AXIS_W} interval={0} tickSize={0} tickMargin={0} tickLine={false} axisLine={false} tick={(p: any) => <ModuleTick {...p} />} />
          <Bar dataKey="span" isAnimationActive={false}>
            {heatRows.map((r, i) => (
              <Cell key={`hm-${i}`} fill={corColor(r.cor)} />
            ))}
            <LabelList dataKey="cor" content={(p: any) => <CellText {...p} />} />
          </Bar>
          <ReferenceArea x1={0} x2={1} fill="none" stroke="#222" strokeWidth={1.5} ifOverflow="visible" />
        </BarChart>
      </div>
      <div style={{ position: 'absolute', left: 0, top: 0 }}>
        <BarChart
          width={A_W}
          height={A_H}
          data={scaleRows}
          barCategoryGap={0}
          margin={{ top: CBAR.top, bottom: A_H - CBAR.bottom, left: CBAR.left, right: A_W - CBAR.right - 80 }}
        >
          <defs>
            <linearGradient id="cbarGrad" x1="0" y1="0" x2="0" y2="1">
              {stops.map((o) => (
                <stop key={o} offset={o} stopColor={corColor(1 - 2 * o)} />
              ))}
            </linearGradient>
          </defs>
          <XAxis dataKey="name" hide height={0} />
          <YAxis
            orientation="right"
            type="number"
            domain={[-1, 1]}
            ticks={scaleTicks}
            allowDataOverflow
            width={80}
            tickSize={11.6}
            tickMargin={6}
            axisLine={false}
            tickLine={{ stroke: INK, strokeWidth: 1.5 }}
            tick={{ fontSize: 23.5, fill: INK, fontFamily: FONT }}
            tickFormatter={(v: number) => String(v)}
          />
          <Bar dataKey="range" fill="url(#cbarGrad)" stroke={INK} strokeWidth={1.5} isAnimationActive={false} />
        </BarChart>
      </div>
      <Txt x={575.4} y={35.5} size={28} bold>Module-trait relationships</Txt>
      <Txt x={527.7} y={530} size={23.5} rotate={-45}>SIC</Txt>
    </div>
  );
};

const GSPanel = ({ points, color, box, xDomain, yDomain, xTicks, yTicks }: any) => {
  const data = points.map(([x, y]: [number, number]) => ({ x, y }));
  return (
    <div style={{ position: 'absolute', left: 0, top: 0 }}>
      <ScatterChart
        width={PAGE_W}
        height={PAGE_H}
        margin={{ top: box.top, bottom: PAGE_H - 50 - box.bottom, left: box.left - 60, right: PAGE_W - box.right }}
      >
        <XAxis
          type="number"
          dataKey="x"
          domain={xDomain}
          ticks={xTicks}
          allowDataOverflow
          height={50}
          tickSize={8}
          tickMargin={10.7}
          axisLine={false}
          tickLine={{ stroke: '#333' }}
          tick={{ fontSize: 16, fill: '#1a1a1a', fontFamily: FONT }}
          tickFormatter={(v: number) => v.toFixed(1)}
        />
        <YAxis
          type="number"
          dataKey="y"
          domain={yDomain}
          ticks={yTicks}
          allowDataOverflow
          width={60}
          tickSize={8}
          tickMargin={16.4}
          axisLine={false}
          tickLine={{ stroke: '#333' }}
          tick={(p: any) => <RotTick {...p} />}
        />
        <ReferenceArea x1={xDomain[0]} x2={xDomain[1]} y1={yDomain[0]} y2={yDomain[1]} fill="none" stroke="#333" strokeWidth={1.2} ifOverflow="visible" />
        <Scatter data={data} shape={ring(color)} isAnimationActive={false} />
      </ScatterChart>
    </div>
  );
};

const BOX_B = { left: 187.7, right: 630, top: 623.5, bottom: 939.5 };
const BOX_C = { left: 797.3, right: 1239.3, top: 621.7, bottom: 946 };

const captionStyle = {
  position: 'absolute' as const,
  left: 25,
  fontSize: 17.4,
  lineHeight: '20px',
  whiteSpace: 'nowrap' as const,
  fontFamily: FONT,
  color: '#231f20',
};

export default function App() {
  const cx = (b: any) => (b.left + b.right) / 2;
  const cy = (b: any) => (b.top + b.bottom) / 2;
  return (
    <div style={{ position: 'absolute', left: 0, top: 0, width: PAGE_W, height: PAGE_H, overflow: 'hidden', background: '#fff', fontFamily: FONT }}>
      <div style={{ position: 'absolute', left: 8, top: 7.5, width: 1347, height: 1200, boxSizing: 'border-box', border: '1.5px solid #6b6b6b' }} />

      <Txt x={142.3} y={39.5} size={26.5} bold>A</Txt>
      <HeatmapPanel />

      <GSPanel points={brownPoints} color="#A52A2A" box={BOX_B} xDomain={[0.034, 0.984]} yDomain={[-0.0087, 0.9697]} xTicks={brownTicksX} yTicks={brownTicksY} />
      <Txt x={134.2} y={579.5} size={26} bold>B</Txt>
      <Txt x={cx(BOX_B)} y={581} size={16.2} bold>Module membership vs. gene significance</Txt>
      <Txt x={cx(BOX_B)} y={600.5} size={16.2} bold>cor=0.6, p=2.4e-91</Txt>
      <Txt x={128.5} y={cy(BOX_B)} size={16} rotate={-90}>Gene significance for SIC</Txt>
      <Txt x={cx(BOX_B)} y={996.5} size={16}>Module Membership in brown module</Txt>

      <GSPanel points={greenPoints} color="#00FF00" box={BOX_C} xDomain={[0.2077, 0.9816]} yDomain={[0.0037, 0.9066]} xTicks={greenTicksX} yTicks={greenTicksY} />
      <Txt x={736.3} y={579} size={26} bold>C</Txt>
      <Txt x={cx(BOX_C)} y={579} size={16.2} bold>Module membership vs. gene significance</Txt>
      <Txt x={cx(BOX_C)} y={598.8} size={16.2} bold>cor=0.58, p=2.7e-82</Txt>
      <Txt x={738} y={cy(BOX_C)} size={16} rotate={-90}>Gene significance for SIC</Txt>
      <Txt x={cx(BOX_C)} y={1004} size={16}>Module Membership in green module</Txt>

      <div style={{ ...captionStyle, top: 1048 }}>
        <b>FIGURE 2</b> | Relationships of module-trait. <b>(A)</b> Heatmap showing the connection of the separate module to SIC. Correlation coefficients and <i>p</i> values are included in
      </div>
      <div style={{ ...captionStyle, top: 1073.5, letterSpacing: -0.07 }}>
        the modules. Red means a strong positive relationship of this module to SIC, while blue represents a strong negative relationship. <b>(B)</b> GS for SIC of the brown module and
      </div>
      <div style={{ ...captionStyle, top: 1099, letterSpacing: 0.066 }}>
        each dot means a gene of this module. <b>(C)</b> GS for SIC of the green module and each dot represents a gene in this module. GS: Gene significance. SIC: sepsis-induced
      </div>
      <div style={{ ...captionStyle, top: 1124.5 }}>cardiomyopathy.</div>
    </div>
  );
}
